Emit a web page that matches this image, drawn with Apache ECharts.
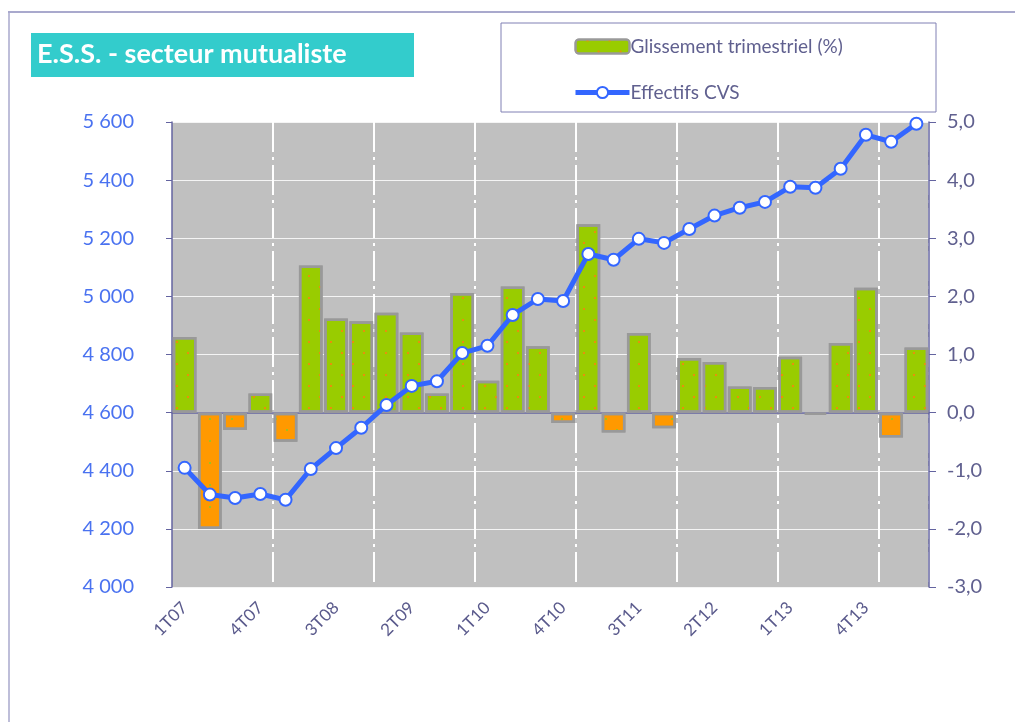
<!DOCTYPE html>
<html>
<head>
<meta charset="utf-8">
<script src="https://cdn.jsdelivr.net/npm/echarts@6/dist/echarts.min.js"></script>
<style>
  html, body { margin: 0; padding: 0; background: #fff; }
  #main { width: 1015px; height: 722px; }
</style>
</head>
<body>
<div id="main"></div>
<script>
var categories = ["1T07", "2T07", "3T07", "4T07", "1T08", "2T08", "3T08", "4T08",
  "1T09", "2T09", "3T09", "4T09", "1T10", "2T10", "3T10", "4T10",
  "1T11", "2T11", "3T11", "4T11", "1T12", "2T12", "3T12", "4T12",
  "1T13", "2T13", "3T13", "4T13", "1T14", "2T14"];
// glissement trimestriel (%) - axe de droite
var glissement = [1.3, -2.0, -0.3, 0.33, -0.5, 2.53, 1.62, 1.57, 1.72, 1.38,
  0.33, 2.06, 0.55, 2.17, 1.14, -0.18, 3.24, -0.34, 1.37, -0.27,
  0.94, 0.87, 0.45, 0.44, 0.96, -0.04, 1.2, 2.15, -0.43, 1.12];
// effectifs CVS - axe de gauche
var effectifs = [4410, 4318, 4306, 4320, 4300, 4406, 4478, 4548, 4626, 4692,
  4708, 4805, 4830, 4936, 4991, 4984, 5146, 5126, 5198, 5184,
  5232, 5278, 5305, 5325, 5377, 5374, 5439, 5556, 5532, 5594];
var leftTicks = { min: 4000, max: 5600, interval: 200 };
var rightTicks = { min: -3, max: 5, interval: 1 };

var FONT = "Lato";
var green = "#99cc00", orange = "#ff9900";

var greenDecal = {
  symbol: "rect", symbolSize: 1, color: "#e8900a",
  dashArrayX: [[2, 20], [0, 11, 2, 9]], dashArrayY: [2, 9]
};
var orangeDecal = {
  symbol: "rect", symbolSize: 1, color: "#a0c020",
  dashArrayX: [[2, 20], [0, 11, 2, 9]], dashArrayY: [2, 9]
};

var barData = [];
for (var i = 0; i < glissement.length; i++) {
  var neg = glissement[i] < 0;
  barData.push({
    value: glissement[i],
    itemStyle: { color: neg ? orange : green, decal: neg ? orangeDecal : greenDecal }
  });
}

function fmtThousands(v) {
  var s = String(Math.round(v));
  return s.replace(/\B(?=(\d{3})+(?!\d))/g, " ");
}

var myChart = echarts.init(document.getElementById("main"));
var option = {
  animation: false,
  textStyle: { fontFamily: FONT },
  graphic: [
    { type: "line", shape: { x1: 8, y1: 12, x2: 1015, y2: 12 }, style: { stroke: "#8c8cbc", lineWidth: 1.5 } },
    { type: "line", shape: { x1: 9, y1: 12, x2: 9, y2: 722 }, style: { stroke: "#a8a8cc", lineWidth: 1.5 } },
    { type: "rect", shape: { x: 31, y: 33, width: 383, height: 44 }, style: { fill: "#33cccc" } },
    { type: "text", left: 37, top: 41, style: { text: "E.S.S. - secteur mutualiste", fill: "#fff", font: "bold 27px " + FONT } },
    { type: "rect", shape: { x: 501, y: 23, width: 435, height: 89 }, style: { fill: "#fff", stroke: "#8080b4", lineWidth: 1 }, z: -1 }
  ],
  legend: {
    left: 573, top: 37, orient: "vertical", itemGap: 27, padding: 0,
    itemWidth: 54, itemHeight: 14,
    textStyle: { color: "#60608f", fontSize: 19, fontFamily: FONT, padding: [0, 0, 0, -4] },
    data: [
      { name: "Glissement trimestriel (%)" },
      { name: "Effectifs CVS", itemStyle: { borderWidth: 2 }, lineStyle: { width: 5 } }
    ]
  },
  grid: { left: 172, right: 86, top: 122, bottom: 135, show: true, backgroundColor: "#c0c0c0", borderWidth: 0 },
  xAxis: {
    type: "category",
    data: categories,
    axisLine: { lineStyle: { color: "#6464a0", width: 1.5 } },
    axisTick: { length: 6, lineStyle: { color: "#6464a0" }, interval: function (idx) { return idx % 4 === 0; } },
    splitLine: {
      show: true,
      interval: function (idx) { return idx % 4 === 0 && idx > 0; },
      lineStyle: { color: "#ffffff", width: 2, type: [30, 5, 3, 5] }
    },
    axisLabel: { interval: 2, rotate: 45, margin: 18, color: "#5a5a8c", fontSize: 17, fontFamily: FONT }
  },
  yAxis: [
    {
      type: "value", min: leftTicks.min, max: leftTicks.max, interval: leftTicks.interval,
      axisLine: { show: true, lineStyle: { color: "#6464a0", width: 1.5 } },
      axisTick: { show: true, length: 6, lineStyle: { color: "#6464a0" } },
      splitLine: { show: true, lineStyle: { color: "#f4f4f4", width: 1.2 } },
      axisLabel: { color: "#4a72f0", fontSize: 20, margin: 38, fontFamily: FONT, formatter: fmtThousands }
    },
    {
      type: "value", min: rightTicks.min, max: rightTicks.max, interval: rightTicks.interval,
      axisLine: { show: true, lineStyle: { color: "#6464a0", width: 1.5 } },
      axisTick: { show: true, length: 7, lineStyle: { color: "#6464a0" } },
      splitLine: { show: false },
      axisLabel: {
        color: "#60608f", fontSize: 20, margin: 18, fontFamily: FONT,
        formatter: function (v) { return v.toFixed(1).replace(".", ","); }
      }
    }
  ],
  series: [
    {
      name: "Glissement trimestriel (%)",
      type: "bar",
      yAxisIndex: 1,
      barCategoryGap: "6%",
      itemStyle: { color: green, borderColor: "#999999", borderWidth: 2.5, decal: greenDecal },
      data: barData
    },
    {
      name: "Effectifs CVS",
      type: "line",
      yAxisIndex: 0,
      symbol: "circle",
      symbolSize: 12,
      lineStyle: { color: "#3366ff", width: 5 },
      itemStyle: { color: "#ffffff", borderColor: "#3366ff", borderWidth: 2 },
      data: effectifs,
      z: 5
    }
  ]
};
myChart.setOption(option);
</script>
</body>
</html>
